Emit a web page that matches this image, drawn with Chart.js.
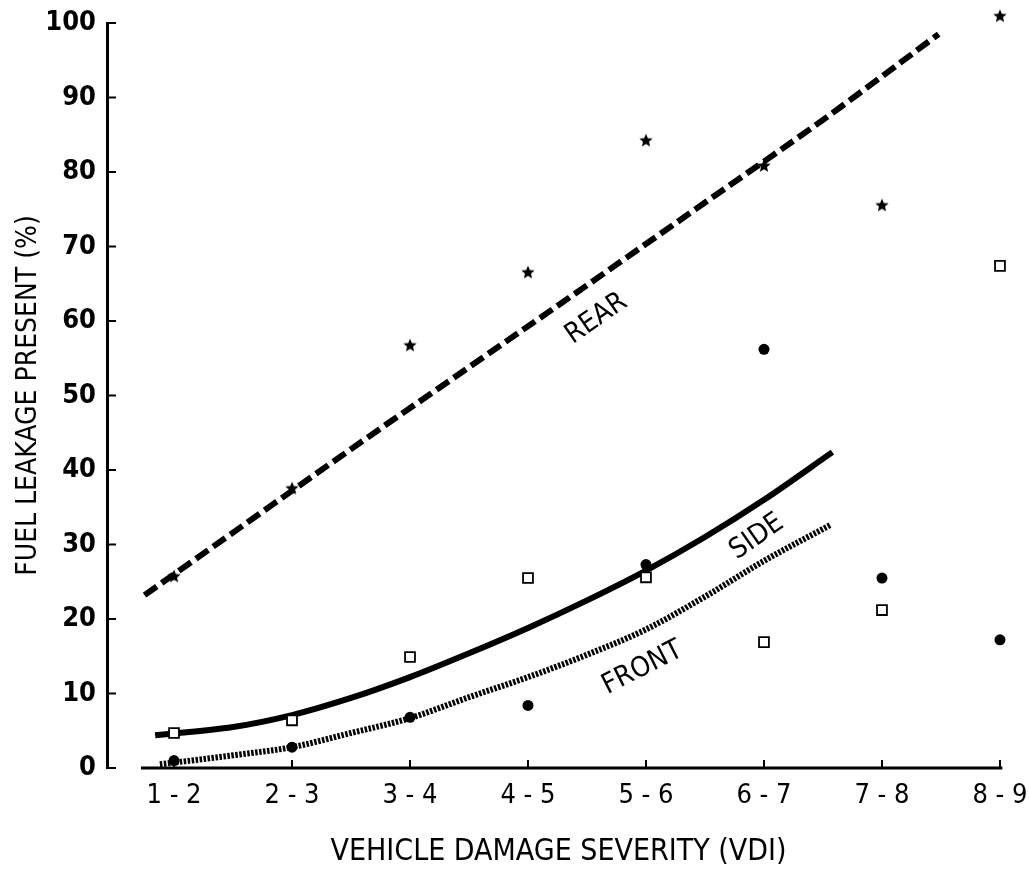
<!DOCTYPE html>
<html>
<head>
<meta charset="utf-8">
<script src="https://cdn.jsdelivr.net/npm/chart.js@4"></script>
<style>
  body { margin: 0; background: #fff; }
</style>
</head>
<body>
<canvas id="grafico" width="1029" height="870"></canvas>
<script>
// categorias del eje X (VDI)
const categorias = ["1 - 2", "2 - 3", "3 - 4", "4 - 5", "5 - 6", "6 - 7", "7 - 8", "8 - 9"];
const ticksY = [0, 10, 20, 30, 40, 50, 60, 70, 80, 90, 100];

// puntos observados (%)
const traseraPuntos = [25.7, 37.5, 56.7, 66.5, 84.2, 80.8, 75.5, 100.9];
const lateralPuntos = [4.7, 6.4, 14.9, 25.5, 25.6, 16.9, 21.2, 67.4];
const frontalPuntos = [1.0, 2.8, 6.8, 8.4, 27.3, 56.2, 25.5, 17.2];

// curvas ajustadas
const traseraCurvaX = [0.75, 1.5, 2.5, 3.5, 4.5, 5.5, 6.5, 7.48];
const traseraCurvaY = [23.2, 31.6, 42.8, 53.8, 64.8, 75.9, 87.0, 98.5];
const lateralCurvaX = [0.84, 1.5, 2, 2.5, 3, 3.5, 4, 4.5, 5, 5.5, 6, 6.58];
const lateralCurvaY = [4.4, 5.5, 7.1, 9.4, 12.2, 15.4, 18.8, 22.5, 26.5, 31.0, 36.0, 42.4];
const frontalCurvaX = [0.88, 1.5, 2, 2.5, 3, 3.5, 4, 4.5, 5, 5.5, 6, 6.56];
const frontalCurvaY = [0.5, 1.7, 2.8, 4.7, 6.7, 9.5, 12.2, 15.2, 18.6, 23.0, 27.8, 32.6];

const fuente = '"Liberation Sans Narrow", "DejaVu Sans Condensed", "Arial Narrow", sans-serif';

function puntos(valores) {
    return valores.map((v, i) => ({ x: i + 1, y: v }));
}
function curva(xs, ys) {
    return xs.map((x, i) => ({ x: x, y: ys[i] }));
}

function hacerEstrella(r) {
    const c = document.createElement("canvas");
    c.width = c.height = Math.ceil(r * 2 + 2);
    const g = c.getContext("2d");
    g.fillStyle = "#000";
    g.beginPath();
    for (let i = 0; i < 10; i++) {
        const rad = i % 2 ? r * 0.45 : r;
        const a = -Math.PI / 2 + i * Math.PI / 5;
        g.lineTo(c.width / 2 + rad * Math.cos(a), c.height / 2 + rad * Math.sin(a));
    }
    g.closePath();
    g.fill();
    return c;
}

// textos sobre las curvas
const rotulos = [
    { texto: "REAR", x: 4.58, y: 60.3, ang: -35 },
    { texto: "SIDE", x: 5.94, y: 31.0, ang: -35 },
    { texto: "FRONT", x: 4.97, y: 13.4, ang: -27 }
];

const ejesYRotulos = {
    id: "ejesYRotulos",
    afterDatasetsDraw(chart) {
        const ctx = chart.ctx;
        const sx = chart.scales.x, sy = chart.scales.y;
        const y0 = sy.getPixelForValue(0);
        ctx.save();
        ctx.strokeStyle = "#000";
        ctx.lineWidth = 3;
        // eje X
        ctx.beginPath();
        ctx.moveTo(sx.getPixelForValue(0.72), y0);
        ctx.lineTo(sx.getPixelForValue(8.02), y0);
        ctx.stroke();
        ctx.lineWidth = 2;
        categorias.forEach((c, i) => {
            const px = sx.getPixelForValue(i + 1);
            ctx.beginPath();
            ctx.moveTo(px, y0);
            ctx.lineTo(px, y0 - 8);
            ctx.stroke();
        });
        // marcas del eje Y hacia dentro
        const xl = chart.chartArea.left;
        ticksY.forEach(v => {
            const py = sy.getPixelForValue(v);
            ctx.beginPath();
            ctx.moveTo(xl, py);
            ctx.lineTo(xl + 9, py);
            ctx.stroke();
        });
        // rotulos
        ctx.fillStyle = "#000";
        ctx.font = "500 28px " + fuente;
        ctx.textAlign = "center";
        ctx.textBaseline = "middle";
        rotulos.forEach(r => {
            ctx.save();
            ctx.translate(sx.getPixelForValue(r.x), sy.getPixelForValue(r.y));
            ctx.rotate(r.ang * Math.PI / 180);
            ctx.fillText(r.texto, 0, 0);
            ctx.restore();
        });
        ctx.restore();
    }
};

const ctx = document.getElementById("grafico").getContext("2d");
new Chart(ctx, {
    type: "scatter",
    data: {
        datasets: [{
            type: "line",
            label: "Rear fit",
            data: curva(traseraCurvaX, traseraCurvaY),
            borderColor: "#000",
            borderWidth: 6,
            borderDash: [15, 6],
            borderCapStyle: "butt",
            pointRadius: 0,
            cubicInterpolationMode: "monotone",
            order: 2
        }, {
            type: "line",
            label: "Side fit",
            data: curva(lateralCurvaX, lateralCurvaY),
            borderColor: "#000",
            borderWidth: 6,
            pointRadius: 0,
            cubicInterpolationMode: "monotone",
            order: 2
        }, {
            type: "line",
            label: "Front fit",
            data: curva(frontalCurvaX, frontalCurvaY),
            borderColor: "#000",
            borderWidth: 6,
            borderDash: [2.5, 1.5],
            borderCapStyle: "butt",
            pointRadius: 0,
            cubicInterpolationMode: "monotone",
            order: 2
        }, {
            label: "Rear",
            data: puntos(traseraPuntos),
            pointStyle: hacerEstrella(7),
            pointRadius: 7,
            clip: false,
            order: 1
        }, {
            label: "Side",
            data: puntos(lateralPuntos),
            pointStyle: "rect",
            pointRadius: 7,
            backgroundColor: "#fff",
            borderColor: "#000",
            borderWidth: 1.8,
            order: 1
        }, {
            label: "Front",
            data: puntos(frontalPuntos),
            pointStyle: "circle",
            pointRadius: 5.5,
            backgroundColor: "#000",
            borderColor: "#000",
            borderWidth: 0,
            order: 1
        }]
    },
    options: {
        responsive: false,
        maintainAspectRatio: false,
        animation: false,
        layout: {
            padding: { top: 23, right: 19, left: 0, bottom: 0 }
        },
        plugins: {
            legend: { display: false },
            tooltip: { enabled: false }
        },
        scales: {
            x: {
                type: "linear",
                min: 0.432,
                max: 8.085,
                grid: { display: false, drawTicks: false },
                border: { display: false },
                afterBuildTicks: scale => {
                    scale.ticks = categorias.map((c, i) => ({ value: i + 1 }));
                },
                afterFit: scale => {
                    scale.height = 102;
                    scale.paddingLeft = 0;
                    scale.paddingRight = 0;
                },
                ticks: {
                    color: "#000",
                    padding: 12,
                    autoSkip: false,
                    maxRotation: 0,
                    font: { family: fuente, size: 27 },
                    callback: v => categorias[v - 1]
                },
                title: {
                    display: true,
                    text: "VEHICLE DAMAGE SEVERITY (VDI)",
                    color: "#000",
                    padding: { top: 17, bottom: 0 },
                    font: { family: fuente, size: 30 }
                }
            },
            y: {
                min: 0,
                max: 100,
                grid: { display: false, drawTicks: false },
                border: { display: true, color: "#000", width: 3 },
                afterBuildTicks: scale => {
                    scale.ticks = ticksY.map(v => ({ value: v }));
                },
                afterFit: scale => {
                    scale.width = 107;
                    scale.paddingTop = 0;
                    scale.paddingBottom = 0;
                },
                ticks: {
                    color: "#000",
                    padding: 11,
                    font: { family: fuente, size: 27, weight: "bold" }
                },
                title: {
                    display: true,
                    text: "FUEL LEAKAGE PRESENT (%)",
                    color: "#000",
                    padding: { top: 12, bottom: 0 },
                    font: { family: fuente, size: 28 }
                }
            }
        }
    },
    plugins: [ejesYRotulos]
});
</script>
</body>
</html>
